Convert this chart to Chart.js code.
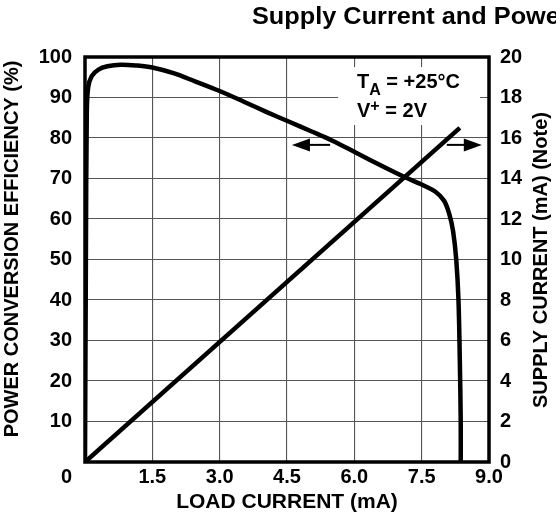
<!DOCTYPE html>
<html>
<head>
<meta charset="utf-8">
<script src="https://cdn.jsdelivr.net/npm/chart.js@4"></script>
<style>
  html, body { margin: 0; padding: 0; background: #fff; }
  #wrap { width: 556px; height: 521px; position: relative; }
</style>
</head>
<body>
<div id="wrap"><canvas id="chart"></canvas></div>
<script>
// load current (mA) vs power conversion efficiency (%)
var effX = [0, 0.02, 0.04, 0.07, 0.15, 0.3, 0.5, 0.8, 1.15, 1.5, 1.97, 2.45, 3.0, 3.55, 4.05, 4.55,
            5.05, 5.5, 6.05, 6.65, 7.13, 7.5, 7.8, 8.0, 8.12, 8.2, 8.27, 8.32, 8.35, 8.37, 8.37];
var effY = [0, 50, 86, 92.5, 95.3, 96.9, 97.7, 98.1, 97.9, 97.4, 96.0, 94.0, 91.6, 88.9, 86.4, 84.0,
            81.6, 79.4, 76.3, 72.9, 70.3, 68.5, 66.8, 64.5, 61.0, 57.0, 50.0, 40.0, 25.0, 10.0, 0];

// load current (mA) vs supply current (mA)
var supplyX = [0, 8.35];
var supplyY = [0, 16.5];

// axis ranges / tick steps
var xTicks = { min: 0, max: 9, step: 1.5 };
var effTicks = { min: 0, max: 100, step: 10 };
var supplyTicks = { min: 0, max: 20, step: 2 };

var FONT = '"Liberation Sans", Arial, Helvetica, sans-serif';
Chart.defaults.font.family = FONT;
Chart.defaults.font.weight = 'bold';
Chart.defaults.font.size = 20;
Chart.defaults.color = '#000';

function pts(xs, ys) {
    return xs.map(function (v, i) { return { x: v, y: ys[i] }; });
}

function arrow(ctx, x0, x1, yy) {
    var dir = Math.sign(x1 - x0);
    ctx.beginPath();
    ctx.moveTo(x0, yy);
    ctx.lineTo(x1 - dir * 12, yy);
    ctx.stroke();
    ctx.beginPath();
    ctx.moveTo(x1, yy);
    ctx.lineTo(x1 - dir * 18, yy - 6.5);
    ctx.lineTo(x1 - dir * 18, yy + 6.5);
    ctx.closePath();
    ctx.fill();
}

// frame, white box behind conditions, titles and notes
var extras = {
    id: 'extras',
    beforeDatasetsDraw: function (chart) {
        var ctx = chart.ctx, a = chart.chartArea, x = chart.scales.x, y = chart.scales.y;
        ctx.save();
        ctx.fillStyle = '#fff';
        var l = x.getPixelForValue(5.64), r = x.getPixelForValue(8.8);
        var t = y.getPixelForValue(97.5), b = y.getPixelForValue(83.2);
        ctx.fillRect(l, t, r - l, b - t);
        ctx.lineWidth = 3.5;
        ctx.strokeStyle = '#000';
        ctx.strokeRect(a.left, a.top, a.right - a.left, a.bottom - a.top);
        ctx.restore();
    },
    afterDraw: function (chart) {
        var ctx = chart.ctx, a = chart.chartArea, x = chart.scales.x, y = chart.scales.y;
        ctx.save();
        ctx.fillStyle = '#000';
        ctx.strokeStyle = '#000';

        // chart title (runs off the right edge like the original)
        ctx.save();
        ctx.font = 'bold 23px ' + FONT;
        ctx.textBaseline = 'alphabetic';
        ctx.translate(252, 24);
        ctx.scale(1.1, 1);
        ctx.fillText('Supply Current and Power Conversion Efficiency vs. Load Current', 0, 0);
        ctx.restore();

        // y axis titles, both read bottom to top
        ctx.font = 'bold 20px ' + FONT;
        ctx.textAlign = 'center';
        ctx.textBaseline = 'middle';
        ctx.save();
        ctx.translate(12, 249);
        ctx.rotate(-Math.PI / 2);
        ctx.fillText('POWER CONVERSION EFFICIENCY (%)', 0, 0);
        ctx.restore();
        ctx.save();
        ctx.translate(541, 260);
        ctx.rotate(-Math.PI / 2);
        ctx.fillText('SUPPLY CURRENT (mA) (Note)', 0, 0);
        ctx.restore();

        // shared origin label
        ctx.textAlign = 'right';
        ctx.fillText('0', a.left - 13, a.bottom + 15);

        // test conditions
        ctx.textAlign = 'left';
        ctx.textBaseline = 'alphabetic';
        var tx = x.getPixelForValue(6.06);
        var ty = y.getPixelForValue(92.3);
        var cx = tx;
        ctx.font = 'bold 20px ' + FONT;
        ctx.fillText('T', cx, ty);
        cx += ctx.measureText('T').width;
        ctx.font = 'bold 16px ' + FONT;
        ctx.fillText('A', cx, ty + 7);
        cx += ctx.measureText('A').width;
        ctx.font = 'bold 20px ' + FONT;
        ctx.fillText(' = +25\u00B0C', cx, ty);

        var vy = ty + 28.5;
        cx = tx;
        ctx.fillText('V', cx, vy);
        cx += ctx.measureText('V').width;
        ctx.font = 'bold 16px ' + FONT;
        ctx.fillText('+', cx, vy - 6);
        cx += ctx.measureText('+').width;
        ctx.font = 'bold 20px ' + FONT;
        ctx.fillText(' = 2V', cx, vy);

        // arrows pointing at each curve's axis
        ctx.lineWidth = 2;
        var ay = y.getPixelForValue(78.3);
        arrow(ctx, x.getPixelForValue(5.46), x.getPixelForValue(4.61), ay);
        arrow(ctx, x.getPixelForValue(8.06), x.getPixelForValue(8.84), ay);
        ctx.restore();
    }
};

var gridStyle = {
    color: '#555',
    lineWidth: 1.1,
    drawTicks: false
};

new Chart(document.getElementById('chart').getContext('2d'), {
    type: 'scatter',
    data: {
        datasets: [
            {
                label: 'Efficiency',
                data: pts(effX, effY),
                yAxisID: 'y',
                showLine: true,
                borderColor: '#000',
                borderWidth: 4.5,
                tension: 0.35,
                pointRadius: 0,
                fill: false
            },
            {
                label: 'Supply Current',
                data: pts(supplyX, supplyY),
                yAxisID: 'y2',
                showLine: true,
                borderColor: '#000',
                borderWidth: 4.5,
                tension: 0,
                pointRadius: 0,
                fill: false
            }
        ]
    },
    options: {
        responsive: true,
        maintainAspectRatio: false,
        devicePixelRatio: 1,
        animation: false,
        layout: { padding: { top: 57, left: 0, right: 0, bottom: 0 } },
        plugins: {
            legend: { display: false },
            tooltip: { enabled: false }
        },
        scales: {
            x: {
                type: 'linear',
                min: xTicks.min,
                max: xTicks.max,
                grid: gridStyle,
                border: { display: false },
                ticks: {
                    stepSize: xTicks.step,
                    padding: 3,
                    maxRotation: 0,
                    callback: function (v) { return v === 0 ? '' : v.toFixed(1); }
                },
                title: {
                    display: true,
                    text: 'LOAD CURRENT (mA)',
                    font: { size: 21, weight: 'bold' },
                    padding: { top: 0, bottom: 6 }
                },
                afterFit: function (s) { s.height = 59; }
            },
            y: {
                position: 'left',
                min: effTicks.min,
                max: effTicks.max,
                grid: gridStyle,
                border: { display: false },
                ticks: {
                    stepSize: effTicks.step,
                    padding: 13,
                    callback: function (v) { return v === 0 ? '' : v; }
                },
                afterFit: function (s) { s.width = 85; }
            },
            y2: {
                position: 'right',
                min: supplyTicks.min,
                max: supplyTicks.max,
                grid: { display: false, drawTicks: false },
                border: { display: false },
                ticks: { stepSize: supplyTicks.step, padding: 11 },
                afterFit: function (s) { s.width = 67; }
            }
        }
    },
    plugins: [extras]
});
</script>
</body>
</html>
